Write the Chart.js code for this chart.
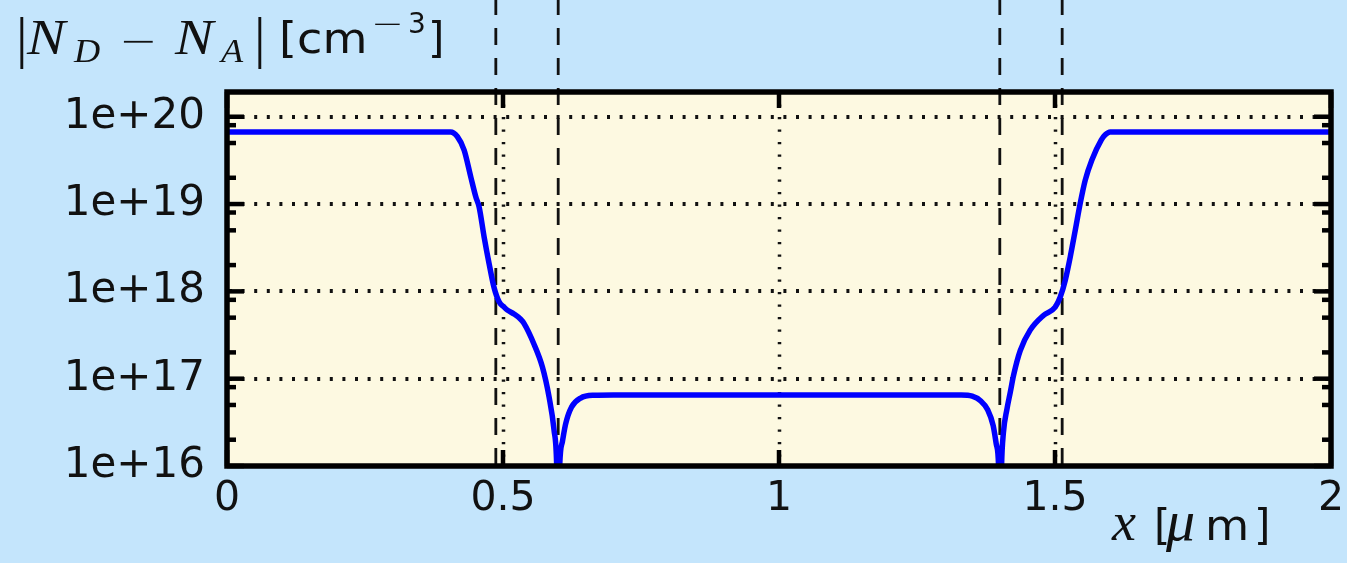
<!DOCTYPE html>
<html>
<head>
<meta charset="utf-8">
<script src="https://cdn.jsdelivr.net/npm/chart.js@4.4.1/dist/chart.umd.min.js"></script>
<style>
  html, body { margin: 0; padding: 0; background: #c4e5fc; }
  #wrap { width: 1347px; height: 563px; }
</style>
</head>
<body>
<div id="wrap"><canvas id="c" width="1347" height="563"></canvas></div>
<script>
// Net doping profile |N_D - N_A| along the device (x in µm)
const positionUm = [
  0.000, 0.405, 0.4175, 0.4296, 0.4416, 0.4507, 0.4567, 0.4658, 0.4748, 0.4839,
  0.4929, 0.502, 0.508, 0.520, 0.532, 0.538, 0.556, 0.5714, 0.5834, 0.5924,
  0.5973, 0.600, 0.6027, 0.6076, 0.6136, 0.624, 0.6407, 0.665, 0.700,
  1.330, 1.350, 1.365, 1.378, 1.388, 1.3935, 1.3978, 1.4005, 1.4032, 1.4065,
  1.413, 1.419, 1.425, 1.437, 1.455, 1.479, 1.5004, 1.5095, 1.5186, 1.5276,
  1.5367, 1.5457, 1.5548, 1.5668, 1.5837, 1.591, 1.600, 2.000
];
const netDoping = [
  6.7e19, 6.7e19, 5.9e19, 4.15e19, 2.05e19, 1.21e19, 9.3e18, 4.2e18, 2.08e18, 1.1e18,
  7.6e17, 6.6e17, 6.1e17, 5.5e17, 4.8e17, 4.3e17, 2.5e17, 1.36e17, 6.2e16, 2.6e16,
  1e16, 1e15, 1e16, 1.9e16, 3.05e16, 4.7e16, 6.0e16, 6.45e16, 6.5e16,
  6.5e16, 6.3e16, 5.6e16, 4.4e16, 2.9e16, 1.8e16, 1e16, 1e15, 1e16, 2.4e16,
  4.5e16, 7.0e16, 1.1e17, 2.1e17, 3.6e17, 5.3e17, 6.6e17, 8.6e17, 1.34e18, 2.48e18,
  5.0e18, 1.02e19, 1.88e19, 3.2e19, 5.4e19, 6.2e19, 6.7e19, 6.7e19
];

// Axis ticks
const xTickValues = [0, 0.5, 1, 1.5, 2];
const xTickLabels = ['0', '0.5', '1', '1.5', '2'];
const yTickValues = [1e16, 1e17, 1e18, 1e19, 1e20];
const yTickLabels = ['1e+16', '1e+17', '1e+18', '1e+19', '1e+20'];
const yMinorFactors = [2, 5, 8];

// Junction / region boundaries marked with dashed lines
const boundaryUm = [0.487, 0.6, 1.4, 1.513];

const pageBg = '#c4e5fc';
const plotBg = '#fdf9e1';
const ink = '#111111';

const framePlugin = {
  id: 'frame',
  beforeDraw(chart) {
    const { ctx, chartArea: a } = chart;
    ctx.save();
    ctx.fillStyle = pageBg;
    ctx.fillRect(0, 0, chart.width, chart.height);
    ctx.fillStyle = plotBg;
    ctx.fillRect(a.left, a.top, a.right - a.left, a.bottom - a.top);
    ctx.restore();
  },
  beforeDatasetsDraw(chart) {
    const { ctx, chartArea: a, scales: { x, y } } = chart;
    ctx.save();
    ctx.strokeStyle = ink;
    // dotted grid, horizontal
    ctx.lineWidth = 4;
    ctx.setLineDash([3, 9.6]);
    ctx.lineDashOffset = -2;
    yTickValues.forEach(v => {
      if (v === yTickValues[0]) return;
      const py = Math.round(y.getPixelForValue(v));
      ctx.beginPath(); ctx.moveTo(a.left, py); ctx.lineTo(a.right, py); ctx.stroke();
    });
    // dotted grid, vertical
    ctx.lineWidth = 3.5;
    ctx.setLineDash([2.2, 10.3]);
    ctx.lineDashOffset = 0;
    xTickValues.forEach(v => {
      if (v === xTickValues[0] || v === xTickValues[xTickValues.length - 1]) return;
      const px = Math.round(x.getPixelForValue(v)) + 0.5;
      ctx.beginPath(); ctx.moveTo(px, a.top); ctx.lineTo(px, a.bottom); ctx.stroke();
    });
    // dashed boundaries, running up to the top edge of the canvas
    ctx.lineWidth = 2.8;
    ctx.setLineDash([17, 13]);
    ctx.lineDashOffset = 2;
    boundaryUm.forEach(v => {
      const px = x.getPixelForValue(v);
      ctx.beginPath(); ctx.moveTo(px, 0); ctx.lineTo(px, a.bottom); ctx.stroke();
    });
    ctx.restore();
  },
  afterDatasetsDraw(chart) {
    const { ctx, chartArea: a, scales: { x, y } } = chart;
    ctx.save();
    ctx.strokeStyle = '#000';
    ctx.setLineDash([]);
    ctx.lineCap = 'butt';
    // inward tick marks on all four sides
    ctx.lineWidth = 4.5;
    const tickLine = (x0, y0, x1, y1) => { ctx.beginPath(); ctx.moveTo(x0, y0); ctx.lineTo(x1, y1); ctx.stroke(); };
    yTickValues.forEach(v => {
      const py = y.getPixelForValue(v);
      tickLine(a.left, py, a.left + 17, py);
      tickLine(a.right, py, a.right - 17, py);
      yMinorFactors.forEach(f => {
        const mv = v * f;
        if (mv > y.max) return;
        const my = y.getPixelForValue(mv);
        tickLine(a.left, my, a.left + 9, my);
        tickLine(a.right, my, a.right - 9, my);
      });
    });
    xTickValues.forEach(v => {
      const px = x.getPixelForValue(v);
      tickLine(px, a.bottom, px, a.bottom - 16);
      tickLine(px, a.top, px, a.top + 16);
    });
    // frame
    ctx.lineWidth = 5.5;
    ctx.strokeRect(a.left, a.top, a.right - a.left, a.bottom - a.top);
    ctx.restore();
  },
  afterDraw(chart) {
    const { ctx } = chart;
    ctx.save();
    ctx.fillStyle = ink;
    ctx.textAlign = 'left';
    ctx.textBaseline = 'alphabetic';
    // draws a text run, optionally widened horizontally
    const run = (t, font, px, py, sx = 1) => {
      ctx.save();
      ctx.font = font;
      ctx.translate(px, py);
      ctx.scale(sx, 1);
      ctx.fillText(t, 0, 0);
      ctx.restore();
    };
    const it = 'italic 50px "Liberation Serif"';
    const itSub = 'italic 33px "Liberation Serif"';
    const bar = '58px "Liberation Serif"';
    const sans = '42px "DejaVu Sans"';
    const thinMinus = '200 46px "DejaVu Sans"';
    // |N_D − N_A| [cm⁻³]
    run('|', bar, 16, 57);
    run('N', it, 27, 54, 1.15);
    run('D', itSub, 74, 62, 1.1);
    run('\u2212', thinMinus, 119, 56);
    run('N', it, 175, 54, 1.15);
    run('A', itSub, 221, 62, 1.1);
    run('|', bar, 254, 57);
    run('[cm', sans, 279, 53, 1.1);
    run('\u2212', '200 34px "DejaVu Sans"', 371, 35, 1.15);
    run('3', '28px "DejaVu Sans"', 408, 33);
    run(']', sans, 428, 53);
    // x [µm]
    run('x', 'italic 54px "Liberation Serif"', 1112, 540);
    run('[', sans, 1154, 540);
    run('\u03bc', 'italic 58px "Liberation Serif"', 1166, 540);
    run('m', sans, 1205, 540, 1.08);
    run(']', sans, 1254, 540);
    ctx.restore();
  }
};

new Chart(document.getElementById('c'), {
  type: 'line',
  data: {
    datasets: [{
      data: positionUm.map((v, i) => ({ x: v, y: netDoping[i] })),
      borderColor: '#0000ff',
      borderWidth: 5.5,
      pointRadius: 0,
      fill: false,
      cubicInterpolationMode: 'monotone'
    }]
  },
  options: {
    responsive: false,
    animation: false,
    events: [],
    layout: { padding: { top: 92, right: 16, left: 0, bottom: 0 } },
    plugins: { legend: { display: false }, tooltip: { enabled: false } },
    scales: {
      x: {
        type: 'linear',
        min: 0,
        max: 2,
        grid: { display: false, drawTicks: false },
        border: { display: false },
        ticks: {
          font: { family: 'DejaVu Sans', size: 41 },
          color: ink,
          padding: 9,
          maxRotation: 0,
          autoSkip: false,
          callback: (v, i) => xTickLabels[i]
        },
        afterBuildTicks: s => { s.ticks = xTickValues.map(v => ({ value: v })); },
        afterFit: s => { s.height = 97; s.paddingLeft = 0; s.paddingRight = 0; }
      },
      y: {
        type: 'logarithmic',
        min: 1e16,
        max: 1.92e20,
        grid: { display: false, drawTicks: false },
        border: { display: false },
        ticks: {
          font: { family: 'DejaVu Sans', size: 42 },
          color: ink,
          padding: 22,
          autoSkip: false,
          callback: (v, i) => yTickLabels[i]
        },
        afterBuildTicks: s => { s.ticks = yTickValues.map(v => ({ value: v })); },
        afterFit: s => { s.width = 227; s.paddingTop = 0; s.paddingBottom = 0; }
      }
    }
  },
  plugins: [framePlugin]
});
</script>
</body>
</html>
